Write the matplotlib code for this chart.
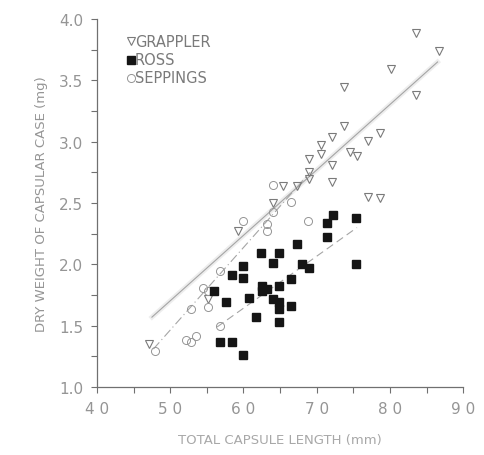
import numpy as np
import matplotlib
matplotlib.use("Agg")
import matplotlib.pyplot as plt

# --- data ---
grappler_x = [83.5, 86.7, 80.2, 73.7, 83.5, 73.7, 72.1, 78.6, 77.0, 70.6, 70.6, 68.9,
              74.5, 75.5, 72.1, 68.9, 68.9, 72.1, 65.4, 67.3, 77.0, 78.6, 64.0, 59.2,
              47.1, 55.1]
grappler_y = [3.89, 3.74, 3.59, 3.45, 3.38, 3.13, 3.04, 3.07, 3.01, 2.97, 2.90, 2.86,
              2.92, 2.88, 2.81, 2.75, 2.70, 2.67, 2.64, 2.64, 2.55, 2.54, 2.50, 2.27,
              1.35, 1.72]

ross_x = [72.2, 71.4, 75.3, 71.4, 67.3, 62.4, 64.8, 64.0, 59.9, 68.0, 68.9, 75.3,
          58.5, 59.9, 66.5, 62.5, 63.2, 64.8, 62.5, 60.7, 64.0, 64.8, 64.8, 66.5,
          61.7, 64.8, 56.8, 58.4, 60.0, 56.0, 57.6]
ross_y = [2.40, 2.34, 2.38, 2.22, 2.17, 2.09, 2.09, 2.01, 1.99, 2.00, 1.97, 2.00,
          1.91, 1.89, 1.88, 1.82, 1.80, 1.82, 1.78, 1.73, 1.72, 1.69, 1.64, 1.66,
          1.57, 1.53, 1.37, 1.37, 1.26, 1.78, 1.69]

seppings_x = [64.0, 66.5, 64.0, 63.2, 63.2, 59.9, 68.8, 56.8, 54.5, 55.2, 55.1, 52.8,
              56.8, 52.1, 52.8, 53.5, 47.9]
seppings_y = [2.65, 2.51, 2.43, 2.33, 2.27, 2.35, 2.35, 1.95, 1.81, 1.78, 1.65, 1.64,
              1.50, 1.38, 1.37, 1.42, 1.29]

# regression lines (end points)
grappler_fit_x = [47.5, 86.5]
grappler_fit_y = [1.57, 3.65]
seppings_fit_x = [47.7, 69.1]
seppings_fit_y = [1.31, 2.75]
ross_fit_x = [56.4, 75.5]
ross_fit_y = [1.49, 2.30]

x_ticks = [40, 50, 60, 70, 80, 90]
x_labels = ["4 0", "5 0", "6 0", "7 0", "8 0", "9 0"]
y_ticks = [1.0, 1.5, 2.0, 2.5, 3.0, 3.5, 4.0]
y_labels = ["1.0", "1.5", "2.0", "2.5", "3.0", "3.5", "4.0"]

TXT = "#959595"
AX = "#707070"

fig = plt.figure(figsize=(4.85, 4.56), dpi=100)
ax = fig.add_axes([0.2, 0.149, 0.755, 0.807])

# fitted lines
ax.plot(grappler_fit_x, grappler_fit_y, color="#e2e2e2", lw=3.5, alpha=0.6, zorder=1)
ax.plot(grappler_fit_x, grappler_fit_y, color="#a5a5a5", lw=0.8, zorder=2)
ax.plot(seppings_fit_x, seppings_fit_y, color="#a5a5a5", lw=0.8, ls=(0, (8, 3, 1, 3)), zorder=2)
ax.plot(ross_fit_x, ross_fit_y, color="#a5a5a5", lw=0.8, ls=(0, (7, 4)), zorder=2)

ax.plot(grappler_x, grappler_y, "v", ms=5.6, mfc="none", mec="#7a7a7a", mew=0.8, ls="none", zorder=3)
ax.plot(seppings_x, seppings_y, "o", ms=5.8, mfc="none", mec="#959595", mew=0.7, ls="none", zorder=3)
ax.plot(ross_x, ross_y, "s", ms=5.6, mfc="#151515", mec="#151515", ls="none", zorder=4)

ax.set_xlim(40, 90)
ax.set_ylim(1.0, 4.0)
ax.set_xticks(x_ticks)
ax.set_xticklabels(x_labels)
ax.set_yticks(y_ticks)
ax.set_yticklabels(y_labels)
ax.set_xticks(np.arange(45, 90, 10), minor=True)
ax.set_yticks(np.arange(1.25, 4.0, 0.5), minor=True)

for s in ["top", "right"]:
    ax.spines[s].set_visible(False)
for s in ["left", "bottom"]:
    ax.spines[s].set_color(AX)
    ax.spines[s].set_linewidth(0.9)

ax.tick_params(which="both", direction="out", length=4, width=0.8, color=AX,
               labelcolor=TXT, labelsize=11)
ax.tick_params(axis="x", pad=6)
ax.tick_params(axis="y", pad=6)

ax.set_xlabel("TOTAL CAPSULE LENGTH (mm)", color="#a8a8a8", fontsize=9.5, labelpad=12)
ax.set_ylabel("DRY WEIGHT OF CAPSULAR CASE (mg)", color=TXT, fontsize=9.5, labelpad=8)

# legend drawn as marker + text
leg_y = [3.82, 3.67, 3.52]
leg_x = 44.6
ax.plot([leg_x], [leg_y[0]], "v", ms=5.6, mfc="none", mec="#7a7a7a", mew=0.8)
ax.plot([leg_x], [leg_y[1]], "s", ms=5.6, mfc="#151515", mec="#151515")
ax.plot([leg_x], [leg_y[2]], "o", ms=5.8, mfc="none", mec="#959595", mew=0.7)
for yy, name in zip(leg_y, ["GRAPPLER", "ROSS", "SEPPINGS"]):
    ax.text(leg_x + 0.6, yy, name, color="#7a7a7a", fontsize=10.5, va="center", ha="left")

fig.savefig("out.png", dpi=100, facecolor="white")
